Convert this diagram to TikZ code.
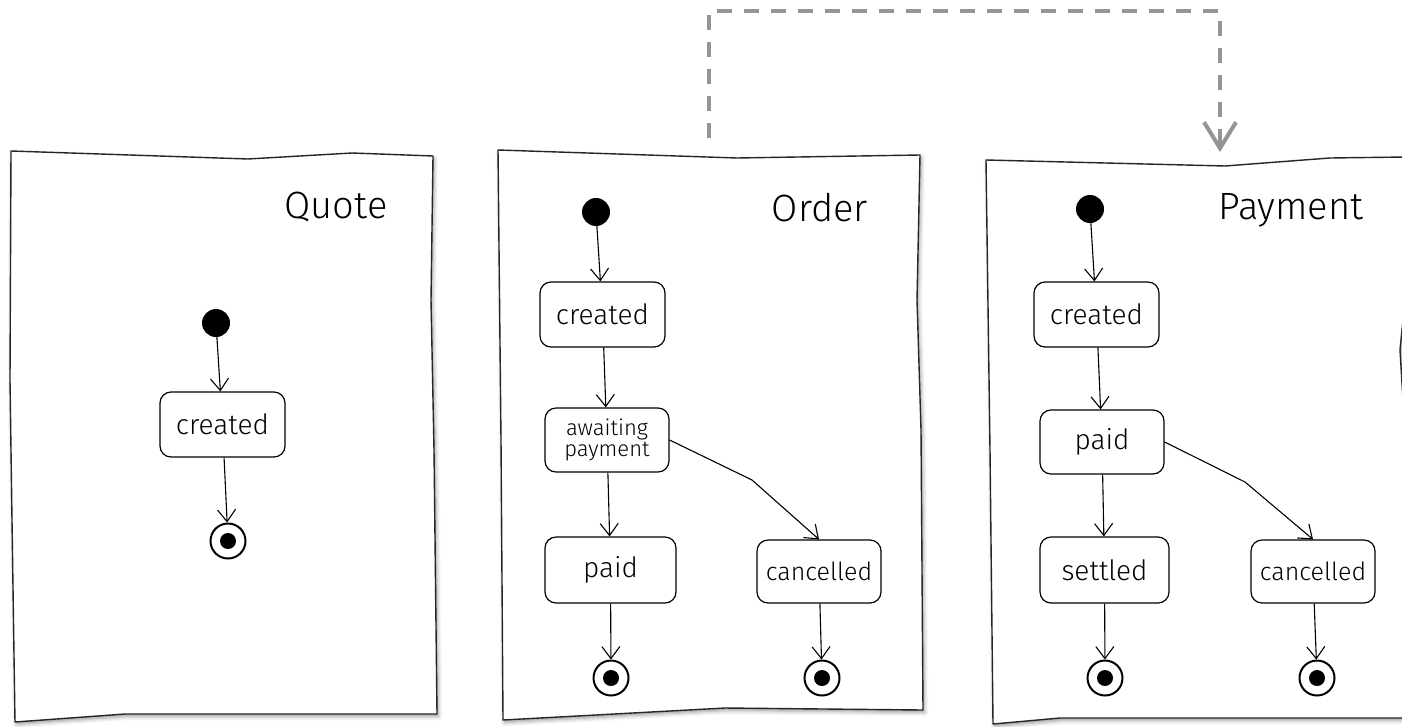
\documentclass[tikz,border=0pt]{standalone}
\usepackage{fontspec}
\setmainfont{Fira Sans}[UprightFont={* Light}]
\usetikzlibrary{arrows.meta,shadows.blur}
\begin{document}
\begin{tikzpicture}[x=1pt,y=-1pt,
  panel/.style={draw=black!85, line width=1.4pt, fill=white, line join=round,
    blur shadow={shadow xshift=1.5pt, shadow yshift=-2.5pt, shadow blur radius=4pt, shadow opacity=40}},
  title/.style={font=\fontsize{38}{38}\selectfont, inner sep=0pt},
  state/.style={draw, line width=1.2pt, rounded corners=11pt, fill=white, inner sep=0pt,
    align=center, font=\fontsize{28}{28}\selectfont},
  init/.style={circle, fill=black, minimum size=28pt, inner sep=0pt},
  final/.style={circle, draw, line width=2pt, fill=white, minimum size=35pt, inner sep=0pt,
    path picture={\fill[black] (path picture bounding box.center) circle (8pt);}},
  trans/.style={line width=1.1pt, -{Straight Barb[length=12pt,width=18pt]}},
  link/.style={draw=black!42, line width=4pt, dash pattern=on 15pt off 12pt,
    -{Straight Barb[length=26pt,width=32pt]}}]
\useasboundingbox (0,0) rectangle (1402,726);

% ---------- Quote ----------
\draw[panel] (11,151) -- (248,159) -- (352,153) -- (433,156) -- (431,300) -- (434,450)
  -- (437,714) -- (125,714) -- (15,722) -- (12,520) -- (10,380) -- cycle;
\node[title] (tq) at (336,207) {Quote};
\node[init] (q0) at (216,323) {};
\node[state, minimum width=125pt, minimum height=65pt] (qc) at (222.5,424.5) {created};
\node[final] (qf) at (228,541) {};
\draw[trans] (q0) -- (qc);
\draw[trans] (qc) -- (qf);

% ---------- Order ----------
\draw[panel] (498,150) -- (737,158) -- (920,155) -- (917,300) -- (921,430)
  -- (923,710) -- (725,708) -- (503,720) -- (501,440) -- cycle;
\node[title] (to) at (820,208) {Order};
\node[init] (o0) at (596,212) {};
\node[state, minimum width=125pt, minimum height=65pt] (oc) at (602.5,314.5) {created};
\node[state, minimum width=124pt, minimum height=64pt,
  font=\fontsize{22}{21}\selectfont] (oa) at (607,440) {awaiting\\payment};
\node[state, minimum width=131pt, minimum height=66pt] (op) at (610.5,570) {paid};
\node[state, minimum width=124pt, minimum height=63pt,
  font=\fontsize{25}{25}\selectfont] (ox) at (819,571.5) {cancelled};
\node[final] (opf) at (611,678) {};
\node[final] (oxf) at (822,678) {};
\coordinate (obend) at (752,480);
\draw[trans] (o0) -- (oc);
\draw[trans] (oc) -- (oa);
\draw[trans] (oa) -- (op);
\draw[trans] (oa.east) -- (obend) -- (ox.north);
\draw[trans] (op) -- (opf);
\draw[trans] (ox) -- (oxf);

% ---------- Payment ----------
\draw[panel] (986,160) -- (1225,166) -- (1330,158) -- (1406,157) -- (1406,290)
  -- (1400,350) -- (1406,450) -- (1406,718) -- (1060,718) -- (993,724) -- (990,450) -- cycle;
\node[title] (tp) at (1291,210) {Payment};
\node[init] (p0) at (1090,209) {};
\node[state, minimum width=125pt, minimum height=65pt] (pc) at (1096.5,314.5) {created};
\node[state, minimum width=124pt, minimum height=64pt] (pp) at (1102,442) {paid};
\node[state, minimum width=129pt, minimum height=66pt] (ps) at (1104.5,570) {settled};
\node[state, minimum width=124pt, minimum height=63pt,
  font=\fontsize{25}{25}\selectfont] (px) at (1313,571.5) {cancelled};
\node[final] (psf) at (1105,678) {};
\node[final] (pxf) at (1317,678) {};
\coordinate (pbend) at (1245,482);
\draw[trans] (p0) -- (pc);
\draw[trans] (pc) -- (pp);
\draw[trans] (pp) -- (ps);
\draw[trans] (pp.east) -- (pbend) -- (px.north);
\draw[trans] (ps) -- (psf);
\draw[trans] (px) -- (pxf);

% ---------- Order -> Payment link ----------
\coordinate (dstart) at (709,138);
\coordinate (dtop) at (965,11);
\coordinate (dend) at (1220,152);
\draw[link] (dstart) |- (dtop) -| (dend);
\end{tikzpicture}
\end{document}
